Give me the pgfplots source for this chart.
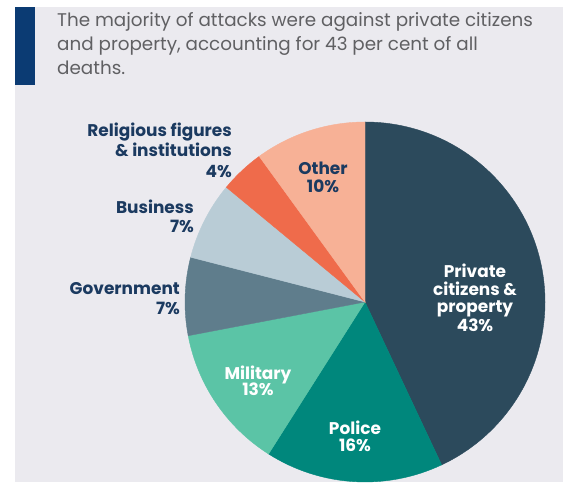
\documentclass[border=0pt]{standalone}
\usepackage{pgfplots}
\pgfplotsset{compat=1.18}
\usepackage{pgfplotstable}
\usepackage{fontspec}
\setmainfont{Poppins}
\definecolor{bg}{HTML}{EBEAEF}
\definecolor{navybar}{HTML}{0B3B73}
\definecolor{labnavy}{HTML}{1B3A60}
\definecolor{titlegray}{HTML}{606063}
\definecolor{slice0}{HTML}{2C4A5C}
\definecolor{slice1}{HTML}{00877C}
\definecolor{slice2}{HTML}{5BC4A6}
\definecolor{slice3}{HTML}{5F7D8C}
\definecolor{slice4}{HTML}{B9CCD6}
\definecolor{slice5}{HTML}{EF6B4B}
\definecolor{slice6}{HTML}{F7B196}
\pgfdeclareplotmark{nothing}{}
% value = share of deaths (%), cum = share before this slice (clockwise from top)
\pgfplotstableread{
x y value cum ci
365 180 43 0 0
365 180 16 43 1
365 180 13 59 2
365 180 7 72 3
365 180 7 79 4
365 180 4 86 5
365 180 10 90 6
}\piedata
\newcommand\lab[5]{\node[anchor=#1,text=#2,inner sep=0pt,font=\bfseries\fontsize{17}{19}\selectfont] at (axis cs:#3,#4) {#5};}
\begin{document}
\begin{tikzpicture}
\begin{axis}[width=563bp,height=482bp,scale only axis,set layers=standard,
  xmin=0,xmax=563,ymin=0,ymax=482,hide axis,clip=false]
\fill[white] (axis cs:0,0) rectangle (axis cs:563,482);
\fill[bg] (axis cs:15,0) rectangle (axis cs:563,475);
\fill[navybar] (axis cs:15,397) rectangle (axis cs:35,475);
\addplot[scatter, only marks, mark=nothing,
  visualization depends on={\thisrow{value} \as \val},
  visualization depends on={\thisrow{cum} \as \cumv},
  visualization depends on={\thisrow{ci} \as \civ},
  scatter/@pre marker code/.code={%
    \pgfmathsetmacro\aS{90-3.6*\cumv}%
    \pgfmathsetmacro\aE{90-3.6*(\cumv+\val)}%
    \pgfmathtruncatemacro\cidx{\civ}%
    \colorlet{curslice}{slice\cidx}%
    \fill[curslice] (0bp,0bp) -- (\aS:180bp) arc[start angle=\aS,end angle=\aE,radius=180bp] -- cycle;%
  },
  scatter/@post marker code/.code={},
] table[x=x,y=y] {\piedata};
\begin{pgfonlayer}{axis foreground}
\node[anchor=base west,text=titlegray,inner sep=0pt,font=\fontsize{18.4}{21}\selectfont] at (axis cs:57,455) {The majority of attacks were against private citizens};
\node[anchor=base west,text=titlegray,inner sep=0pt,font=\fontsize{18.4}{21}\selectfont] at (axis cs:57,431) {and property, accounting for 43 per cent of all};
\node[anchor=base west,text=titlegray,inner sep=0pt,font=\fontsize{18.4}{21}\selectfont] at (axis cs:57,407) {deaths.};
\lab{base east}{labnavy}{232}{345}{Religious figures}
\lab{base east}{labnavy}{232}{325}{\& institutions}
\lab{base east}{labnavy}{232}{304}{4\%}
\lab{base east}{labnavy}{194}{268}{Business}
\lab{base east}{labnavy}{194}{249}{7\%}
\lab{base east}{labnavy}{180}{187}{Government}
\lab{base east}{labnavy}{180}{167}{7\%}
\lab{base}{labnavy}{323}{307}{Other}
\lab{base}{labnavy}{323}{289}{10\%}
\lab{base}{white}{475}{204}{Private}
\lab{base}{white}{475}{186}{citizens \&}
\lab{base}{white}{475}{169}{property}
\lab{base}{white}{475}{150}{43\%}
\lab{base}{white}{258}{102}{Military}
\lab{base}{white}{258}{86}{13\%}
\lab{base}{white}{355}{47}{Police}
\lab{base}{white}{355}{30}{16\%}
\end{pgfonlayer}
\end{axis}
\end{tikzpicture}
\end{document}
